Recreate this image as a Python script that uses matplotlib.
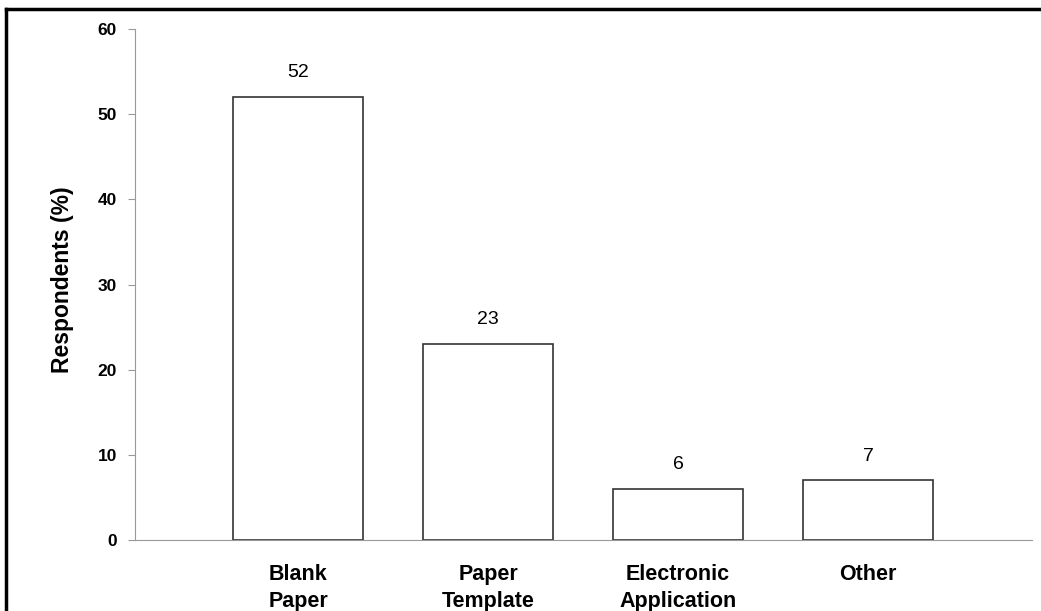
import matplotlib.pyplot as plt
from matplotlib.lines import Line2D

# valores
categorias = ["Blank\nPaper", "Paper\nTemplate", "Electronic\nApplication", "Other"]
valores = [52, 23, 6, 7]
yticks = [0, 10, 20, 30, 40, 50, 60]

plt.rcParams['font.family'] = ['Liberation Sans', 'DejaVu Sans']

fig = plt.figure(figsize=(10.41, 6.11), dpi=100)
ax = fig.add_axes([0.1297, 0.1162, 0.8617, 0.8363])

x = range(len(categorias))
ax.bar(x, valores, width=0.684, color='white', edgecolor='#333333', linewidth=1.2)

for xi, v in zip(x, valores):
    ax.text(xi, v + 2.85, str(v), ha='center', va='center', fontsize=14)

ax.set_xlim(-0.858, 3.863)
ax.set_ylim(0, 60)
ax.set_yticks(yticks)
ax.set_yticklabels([str(t) for t in yticks], fontweight='bold', fontsize=12.5)
ax.set_xticks(list(x))
ax.set_xticklabels(categorias, fontweight='bold', fontsize=15.5, linespacing=1.42, va='top')
ax.tick_params(axis='x', length=0, pad=17)
ax.tick_params(axis='y', length=5, color='#999999', pad=8)

ax.spines['top'].set_visible(False)
ax.spines['right'].set_visible(False)
ax.spines['left'].set_color('#999999')
ax.spines['bottom'].set_color('#999999')

ax.set_ylabel("Respondents (%)", fontweight='bold', fontsize=16.5)
ax.yaxis.set_label_coords(-0.068, 0.51)

# moldura (só topo e esquerda aparecem no original)
fig.add_artist(Line2D([0.006, 1.0], [0.986, 0.986], transform=fig.transFigure, color='black', linewidth=2.5))
fig.add_artist(Line2D([0.006, 0.006], [0.0, 0.986], transform=fig.transFigure, color='black', linewidth=2.5))

fig.savefig('out.png', dpi=100)
